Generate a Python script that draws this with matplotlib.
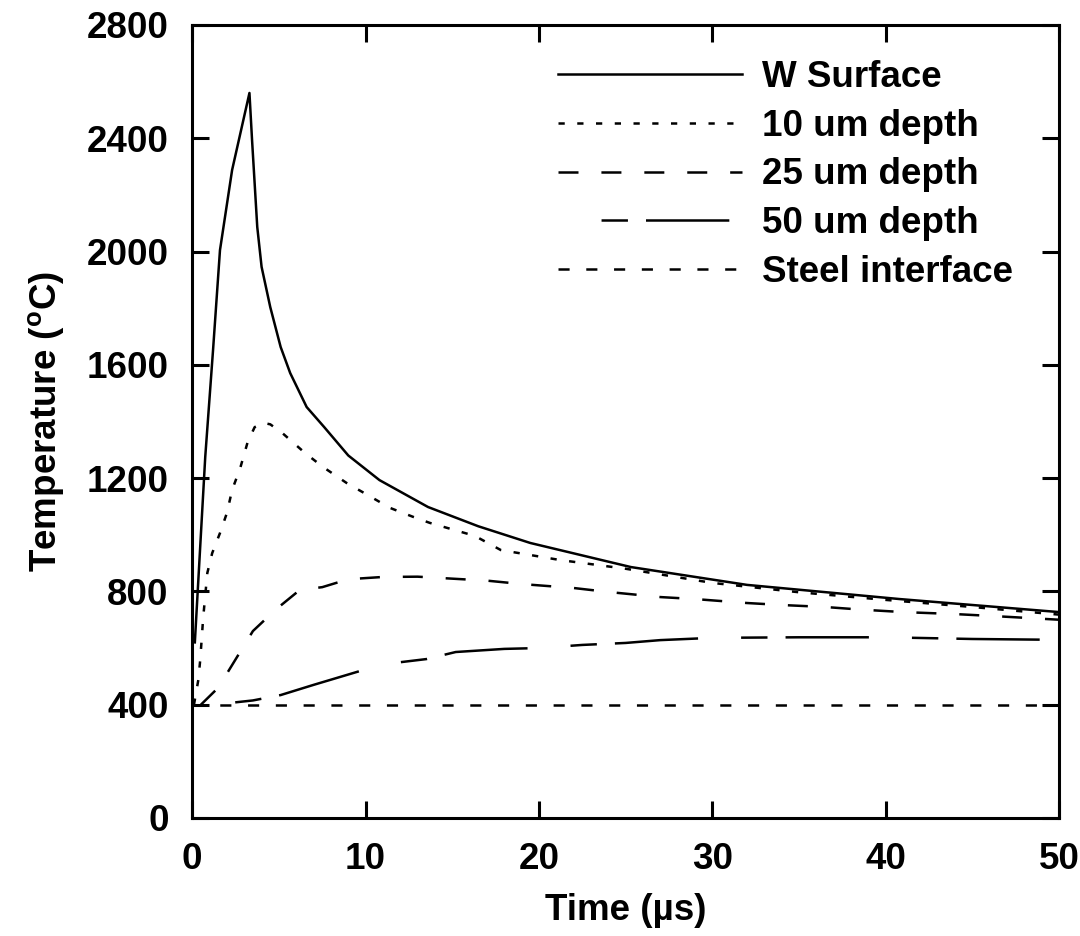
import matplotlib
matplotlib.use('Agg')
from matplotlib import pyplot as plt

plt.rcParams['font.family'] = 'Liberation Sans'
plt.rcParams['font.weight'] = 'bold'
plt.rcParams['lines.scale_dashes'] = False

# W surface
t_surf = [0.15, 0.75, 1.2, 1.6, 2.3, 3.3, 3.45, 3.75, 4.0, 4.5, 5.1, 5.65, 6.6, 7.6, 9.0,
          10.8, 13.6, 16.5, 19.5, 25.3, 32.0, 40.8, 50.0]
T_surf = [620, 1275, 1652, 2005, 2288, 2560, 2394, 2087, 1946, 1804, 1663, 1571, 1451, 1381, 1280,
          1193, 1098, 1030, 971, 886, 823, 773, 727]

# 10 um depth
t_10 = [0.1, 0.35, 0.46, 0.63, 0.87, 1.15, 1.6, 2.0, 2.3, 2.77, 3.2, 3.6, 4.1, 4.5, 5.2, 6.5,
        7.55, 8.9, 10.3, 11.4, 12.75, 13.7, 16.3, 17.8, 21.2, 25.0, 30.0, 35.0, 40.0, 45.0, 50.0]
T_10 = [400, 487, 558, 706, 865, 935, 1006, 1077, 1158, 1236, 1328, 1380, 1395, 1390, 1359, 1289,
        1239, 1183, 1134, 1095, 1063, 1042, 996, 946, 911, 880, 830, 797, 770, 745, 718]

# 25 um depth
t_25 = [0.5, 1.5, 2.5, 3.5, 4.8, 6.2, 7.5, 9.0, 11.0, 13.0, 15.0, 17.0, 19.0, 22.0, 24.0, 27.0,
        29.0, 32.0, 34.0, 36.5, 38.5, 41.0, 44.0, 46.5, 50.0]
T_25 = [400, 460, 560, 660, 735, 805, 815, 843, 851, 852, 845, 838, 826, 812, 798, 780,
        773, 759, 752, 745, 736, 727, 720, 712, 700]

# 50 um depth
t_50 = [0.0, 2.0, 3.5, 5.1, 7.0, 9.9, 12.0, 13.5, 15.2, 18.0, 20.0, 22.5, 25.0, 27.0, 30.0,
        35.0, 40.0, 45.0, 50.0]
T_50 = [400, 405, 415, 434, 470, 523, 550, 561, 586, 597, 600, 611, 618, 628, 636,
        638, 638, 632, 629]

# steel interface
t_steel = [0.0, 50.0]
T_steel = [400, 400]

fig, ax = plt.subplots(figsize=(10.8, 9.36), dpi=100)
fig.subplots_adjust(left=0.178, right=0.9806, bottom=0.1261, top=0.9733)

lw = 1.8
ax.plot(t_surf, T_surf, color='black', lw=lw, ls='-', label='W Surface')
ax.plot(t_10, T_10, color='black', lw=lw, ls=(0, (4.5, 9)), label='10 um depth')
ax.plot(t_25, T_25, color='black', lw=lw, ls=(0, (14.4, 16.5)), label='25 um depth')
ax.plot(t_50, T_50, color='black', lw=lw, ls=(60, (60, 31, 19, 13)), label='50 um depth')
ax.plot(t_steel, T_steel, color='black', lw=lw, ls=(0, (8, 12)), label='Steel interface')

ax.set_xlim(0, 50)
ax.set_ylim(0, 2800)
ax.set_xticks(range(0, 51, 10))
ax.set_yticks(range(0, 2801, 400))

for s in ax.spines.values():
    s.set_linewidth(2.2)
ax.tick_params(direction='in', length=12, width=2.2, top=True, right=True,
               labelsize=26.5, pad=17)

ax.set_xlabel('Time (µs)', fontsize=26.5, fontweight='bold', labelpad=12)
ax.set_ylabel('Temperature ($^\\mathregular{o}$C)', fontsize=26.5, fontweight='bold', labelpad=14)

ax.legend(loc='upper left', bbox_to_anchor=(0.422, 0.956), frameon=False,
          fontsize=26.5, handlelength=5.0, handletextpad=0.55, labelspacing=0.375,
          borderpad=0, borderaxespad=0)

plt.savefig('out.png')
